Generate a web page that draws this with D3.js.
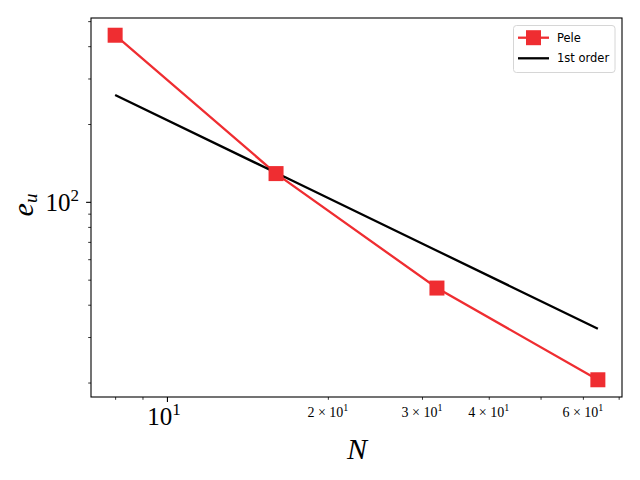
<!DOCTYPE html>
<html><head><meta charset="utf-8">
<script src="https://cdn.jsdelivr.net/npm/d3@7"></script>
<style>body{margin:0;background:#fff}</style>
</head><body><svg id="c" width="640" height="480"></svg>
<script>
// ---- data ----
const N = [8, 16, 32, 64];
const pele = [441, 128.6, 46.4, 20.5];
const firstOrder = [259, 129.5, 64.7, 32.3];
const xMajorTicks = [10];
const xMajorLabels = [["10", "1"]];
const xMinorTicks = [8, 9, 20, 30, 40, 50, 60, 70];
const xMinorLabelTicks = [20, 30, 40, 60];
const xMinorLabels = ["2", "3", "4", "6"];
const yMajorTicks = [100];
const yMajorLabels = [["10", "2"]];
const yMinorTicks = [20, 30, 40, 50, 60, 70, 80, 90, 200, 300, 400, 500];
const legendLabels = ["Pele", "1st order"];
const seriesColors = ["#ef2d31", "#000000"];

// ---- layout ----
const L = 91, R = 622, T = 18, B = 397;
const svg = d3.select("#c");
const serif = "'Liberation Serif','DejaVu Serif',serif";

function padLog(vals) {
  const lo = Math.log10(d3.min(vals)), hi = Math.log10(d3.max(vals));
  const m = (hi - lo) * 0.05;
  return [Math.pow(10, lo - m), Math.pow(10, hi + m)];
}
const x = d3.scaleLog().domain(padLog(N)).range([L, R]);
const y = d3.scaleLog().domain(padLog(pele.concat(firstOrder))).range([B, T]);

// ---- axes (ticks only, labels custom) ----
const gx = svg.append("g").attr("transform", `translate(0,${B})`);
gx.call(d3.axisBottom(x).tickValues(xMajorTicks).tickSize(4.9).tickFormat(""));
const gxm = svg.append("g").attr("transform", `translate(0,${B})`);
gxm.call(d3.axisBottom(x).tickValues(xMinorTicks).tickSize(2.8).tickFormat(""));
const gy = svg.append("g").attr("transform", `translate(${L},0)`);
gy.call(d3.axisLeft(y).tickValues(yMajorTicks).tickSize(4.9).tickFormat(""));
const gym = svg.append("g").attr("transform", `translate(${L},0)`);
gym.call(d3.axisLeft(y).tickValues(yMinorTicks).tickSize(2.8).tickFormat(""));
[gx, gy].forEach(g => { g.select(".domain").remove(); g.selectAll("line").attr("stroke-width", 1.1).attr("stroke", "#000"); });
[gxm, gym].forEach(g => { g.select(".domain").remove(); g.selectAll("line").attr("stroke-width", 0.8).attr("stroke", "#000"); });

// major x labels
xMajorTicks.forEach((t, i) => {
  const tx = svg.append("text").attr("x", x(t) - 3).attr("y", 424.5)
    .attr("text-anchor", "middle").attr("font-family", serif).attr("font-size", 25);
  tx.append("tspan").text(xMajorLabels[i][0]);
  tx.append("tspan").attr("dy", -10).attr("font-size", 17).text(xMajorLabels[i][1]);
});
// minor x labels
xMinorLabelTicks.forEach((t, i) => {
  const tx = svg.append("text").attr("x", x(t)).attr("y", 416.7)
    .attr("text-anchor", "middle").attr("font-family", serif).attr("font-size", 14);
  tx.append("tspan").text(xMinorLabels[i] + " \u00d7 10");
  tx.append("tspan").attr("dy", -5.5).attr("font-size", 10).text("1");
});
// major y labels
yMajorTicks.forEach((t, i) => {
  const tx = svg.append("text").attr("x", 79).attr("y", y(t) + 9)
    .attr("text-anchor", "end").attr("font-family", serif).attr("font-size", 25);
  tx.append("tspan").text(yMajorLabels[i][0]);
  tx.append("tspan").attr("dy", -10).attr("font-size", 17).text(yMajorLabels[i][1]);
});

// axis titles
svg.append("text").attr("x", 357).attr("y", 459).attr("text-anchor", "middle")
  .attr("font-family", serif).attr("font-style", "italic").attr("font-size", 30).text("N");
const yl = svg.append("text").attr("transform", "translate(33,205) rotate(-90)")
  .attr("text-anchor", "middle").attr("font-family", serif).attr("font-style", "italic").attr("font-size", 30);
yl.append("tspan").text("e");
yl.append("tspan").attr("dy", 4).attr("font-size", 19).text("u");

// ---- series ----
const line = d3.line().x(d => x(d[0])).y(d => y(d[1]));
const peleData = N.map((n, i) => [n, pele[i]]);
const foData = N.map((n, i) => [n, firstOrder[i]]);
svg.append("path").datum(peleData).attr("d", line).attr("fill", "none")
  .attr("stroke", seriesColors[0]).attr("stroke-width", 2.3);
svg.append("path").datum(foData).attr("d", line).attr("fill", "none")
  .attr("stroke", seriesColors[1]).attr("stroke-width", 2.3);
const ms = 15;
svg.selectAll("rect.m").data(peleData).enter().append("rect").attr("class", "m")
  .attr("x", d => x(d[0]) - ms / 2).attr("y", d => y(d[1]) - ms / 2)
  .attr("width", ms).attr("height", ms).attr("fill", seriesColors[0]);

// frame
svg.append("rect").attr("x", L).attr("y", T).attr("width", R - L).attr("height", B - T)
  .attr("fill", "none").attr("stroke", "#000").attr("stroke-width", 1.1);

// ---- legend ----
const lg = svg.append("g");
lg.append("rect").attr("x", 513.5).attr("y", 25.5).attr("width", 101.5).attr("height", 47)
  .attr("rx", 3).attr("fill", "#fff").attr("fill-opacity", 0.8).attr("stroke", "#d6d6d6").attr("stroke-width", 1);
legendLabels.forEach((lab, i) => {
  const yy = 37.7 + i * 20.6;
  lg.append("line").attr("x1", 518).attr("x2", 549).attr("y1", yy).attr("y2", yy)
    .attr("stroke", seriesColors[i]).attr("stroke-width", 2.3);
  if (i === 0) lg.append("rect").attr("x", 533.5 - ms / 2).attr("y", yy - ms / 2)
    .attr("width", ms).attr("height", ms).attr("fill", seriesColors[0]);
  lg.append("text").attr("x", 557).attr("y", yy + 4).attr("font-family", "'DejaVu Sans',sans-serif")
    .attr("font-size", 11.5).text(lab);
});
</script></body></html>
